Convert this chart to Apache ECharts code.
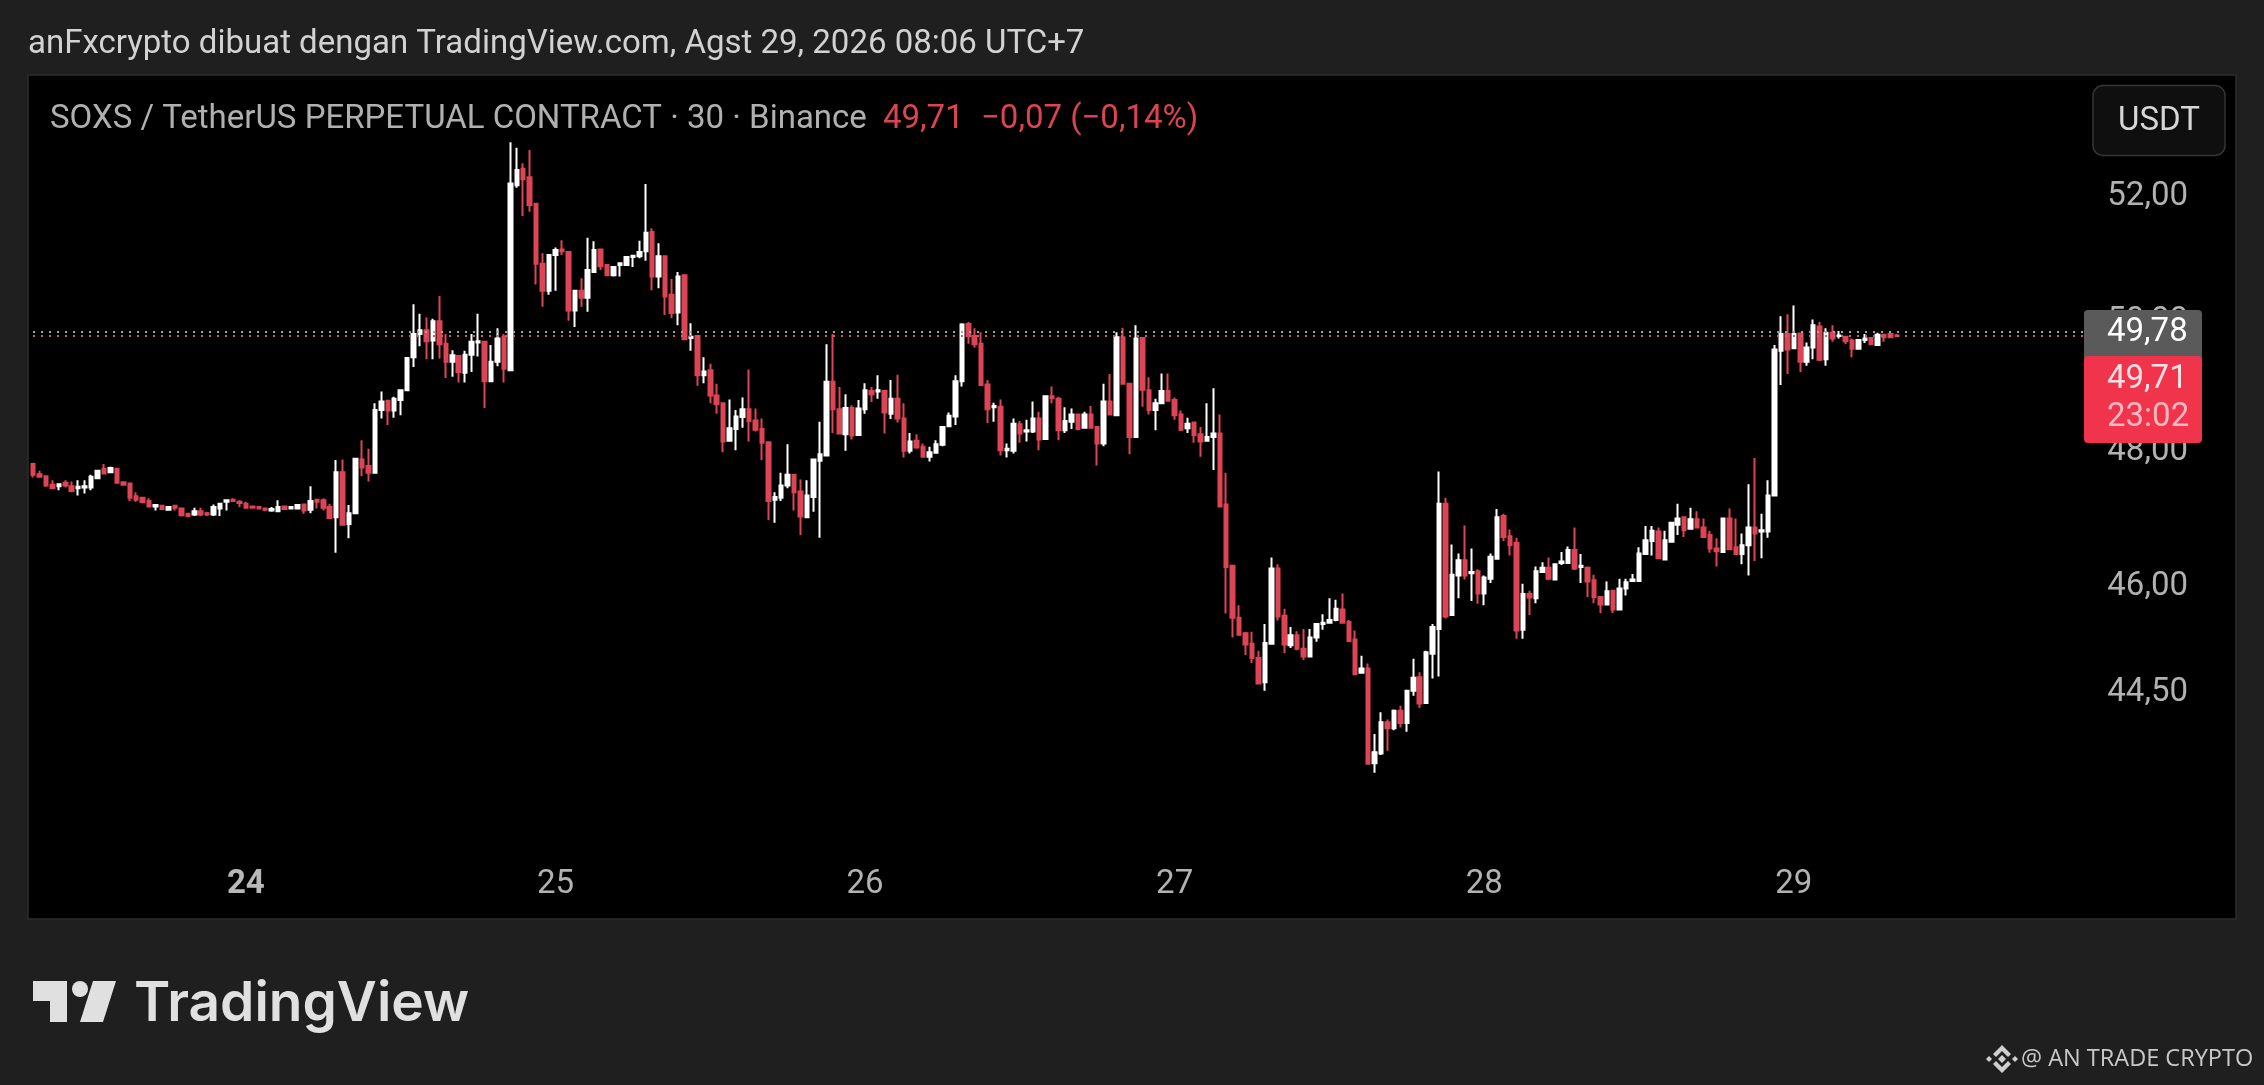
<!DOCTYPE html>
<html>
<head>
<meta charset="utf-8">
<style>html,body{margin:0;padding:0;background:#1f1f1f;overflow:hidden}#c{width:2264px;height:1085px}</style>
<script src="https://cdn.jsdelivr.net/npm/echarts@6/dist/echarts.min.js"></script>
</head>
<body>
<div id="c"></div>
<script>
// Each row: [open, close, low, high], 30-minute candles
const day23 = [[47.75,47.59,47.55,47.77],[47.60,47.56,47.55,47.65],[47.57,47.43,47.41,47.58],[47.44,47.39,47.38,47.51],[47.42,47.45,47.36,47.46],[47.47,47.43,47.40,47.51],[47.42,47.35,47.33,47.49],[47.39,47.41,47.28,47.51],[47.40,47.42,47.31,47.51],[47.40,47.56,47.36,47.59],[47.54,47.65,47.53,47.66],[47.68,47.61,47.60,47.75],[47.63,47.69,47.62,47.71],[47.68,47.47,47.46,47.69],[47.48,47.44,47.43,47.49],[47.46,47.25,47.20,47.47],[47.27,47.22,47.19,47.33],[47.25,47.18,47.17,47.26],[47.20,47.12,47.11,47.24],[47.12,47.14,47.06,47.15],[47.13,47.08,47.07,47.14],[47.07,47.11,47.07,47.12],[47.13,47.10,47.06,47.14],[47.09,46.99,46.97,47.10],[47.01,46.98,46.97,47.02],[47.00,47.05,46.98,47.10],[47.05,47.00,46.98,47.10],[47.02,47.00,46.98,47.04],[47.00,47.11,46.98,47.15],[47.09,47.16,46.98,47.17],[47.19,47.21,47.06,47.22],[47.22,47.20,47.19,47.24],[47.19,47.17,47.11,47.21]];
const day24 = [[47.16,47.10,47.09,47.19],[47.12,47.10,47.09,47.13],[47.11,47.09,47.08,47.12],[47.09,47.07,47.05,47.10],[47.06,47.08,47.04,47.11],[47.05,47.11,47.05,47.21],[47.12,47.08,47.07,47.13],[47.09,47.11,47.08,47.12],[47.09,47.14,47.08,47.15],[47.15,47.06,47.01,47.16],[47.07,47.20,47.02,47.42],[47.22,47.19,47.09,47.23],[47.21,47.10,47.06,47.24],[47.11,46.95,46.94,47.16],[46.96,47.63,46.44,47.81],[47.63,46.85,46.84,47.82],[46.86,47.02,46.65,47.14],[47.02,47.83,47.01,47.84],[47.82,47.70,47.57,48.11],[47.72,47.62,47.49,47.98],[47.62,48.57,47.61,48.67],[48.57,48.70,48.44,48.85],[48.71,48.56,48.34,48.72],[48.56,48.74,48.45,48.77],[48.72,48.87,48.49,48.88],[48.87,49.37,48.86,49.38],[49.38,49.74,49.23,50.21],[49.74,49.80,49.55,50.06],[49.80,49.63,49.35,50.00],[49.64,49.94,49.35,49.98],[49.94,49.58,49.36,50.34],[49.59,49.31,49.06,49.74],[49.31,49.41,49.08,49.49],[49.40,49.15,48.99,49.41],[49.14,49.42,48.99,49.48],[49.42,49.62,49.15,49.74],[49.61,49.63,49.39,50.06],[49.62,49.01,48.60,49.63],[49.01,49.31,49.00,49.57],[49.31,49.67,49.24,49.83],[49.70,49.20,48.99,49.74],[49.18,52.15,49.17,52.83],[52.12,52.37,52.08,52.74],[52.39,52.22,51.62,52.48],[52.25,51.80,51.69,52.70],[51.82,50.85,50.52,51.83],[50.85,50.42,50.17,51.02],[50.42,50.99,50.36,51.00]];
const day25 = [[50.99,51.07,50.42,51.11],[51.08,51.05,50.99,51.23],[51.04,50.11,49.95,51.05],[50.11,50.42,49.85,50.43],[50.42,50.31,50.17,50.62],[50.31,50.75,50.09,51.27],[50.72,51.07,50.71,51.21],[51.08,50.81,50.75,51.09],[50.83,50.67,50.66,50.84],[50.67,50.80,50.65,50.81],[50.83,50.86,50.65,50.87],[50.83,50.96,50.82,50.97],[50.96,50.98,50.80,50.99],[50.97,51.04,50.94,51.22],[51.05,51.35,50.90,52.14],[51.36,50.65,50.43,51.42],[50.65,50.97,50.46,51.18],[50.97,50.33,50.04,50.98],[50.36,50.07,49.99,50.61],[50.08,50.65,49.88,50.72],[50.67,49.66,49.65,50.68],[49.68,49.70,49.48,49.91],[49.71,49.10,48.94,49.72],[49.10,49.16,48.98,49.38],[49.18,48.79,48.67,49.28],[48.79,48.66,48.51,48.97],[48.67,48.09,47.93,48.68],[48.10,48.29,48.09,48.73],[48.28,48.47,47.96,48.57],[48.46,48.58,48.30,48.76],[48.58,48.40,48.09,49.19],[48.41,48.27,48.24,48.59],[48.28,48.07,47.81,48.44],[48.08,47.20,46.92,48.09],[47.22,47.26,46.88,47.33],[47.25,47.43,47.20,47.62],[47.43,47.59,47.39,48.05],[47.59,47.33,47.06,47.60],[47.34,46.97,46.70,47.52],[46.96,47.28,46.95,47.51],[47.26,47.82,47.04,47.83],[47.80,47.90,46.66,48.39],[47.88,49.00,47.87,49.58],[49.00,48.58,48.22,49.74],[48.58,48.21,48.20,48.92],[48.20,48.60,47.95,48.81],[48.60,48.18,48.12,48.64],[48.19,48.59,48.18,48.72]];
const day26 = [[48.58,48.87,48.51,48.98],[48.86,48.81,48.69,48.92],[48.85,48.87,48.74,49.10],[48.86,48.53,48.21,48.87],[48.51,48.74,48.43,49.03],[48.74,48.44,48.38,49.11],[48.44,47.95,47.85,48.67],[47.95,48.09,47.91,48.22],[48.10,48.00,47.98,48.20],[48.01,47.86,47.85,48.06],[47.86,47.93,47.79,48.01],[47.92,48.05,47.91,48.11],[48.04,48.31,48.02,48.32],[48.32,48.48,48.31,48.53],[48.47,49.01,48.34,49.10],[49.01,49.89,48.93,49.91],[49.90,49.71,49.59,49.93],[49.71,49.58,49.53,49.83],[49.59,48.95,48.94,49.77],[48.96,48.58,48.37,49.03],[48.61,48.63,48.39,48.68],[48.62,47.96,47.88,48.73],[47.96,47.98,47.85,48.06],[47.95,48.36,47.91,48.44],[48.35,48.21,48.07,48.40],[48.24,48.26,48.09,48.42],[48.24,48.44,48.22,48.70],[48.44,48.12,47.96,48.54],[48.13,48.78,48.12,48.79],[48.78,48.75,48.67,48.93],[48.74,48.26,48.11,48.77],[48.26,48.40,48.22,48.61],[48.39,48.50,48.28,48.59],[48.50,48.28,48.26,48.51],[48.30,48.50,48.29,48.54],[48.50,48.30,48.29,48.63],[48.31,48.06,47.73,48.32],[48.06,48.70,48.02,48.97],[48.70,48.50,48.49,49.12],[48.49,49.69,48.48,49.77],[49.69,48.97,48.96,49.84],[48.97,48.16,47.90,48.98],[48.16,49.67,48.15,49.88],[49.68,48.88,48.62,49.69],[48.87,48.57,48.50,49.07],[48.57,48.67,48.26,48.74],[48.67,48.86,48.66,49.13],[48.86,48.71,48.70,49.13]];
const day27 = [[48.72,48.49,48.42,48.76],[48.50,48.27,48.25,48.56],[48.29,48.36,48.22,48.45],[48.38,48.19,48.07,48.39],[48.20,48.09,47.86,48.31],[48.10,48.16,48.09,48.67],[48.16,48.21,47.66,48.90],[48.21,47.12,47.11,48.50],[47.15,46.23,45.56,47.62],[46.25,45.50,45.22,46.26],[45.50,45.26,45.25,45.68],[45.28,45.12,44.97,45.30],[45.13,44.93,44.86,45.30],[44.93,44.57,44.56,45.03],[44.59,45.14,44.47,45.41],[45.13,46.21,45.12,46.37],[46.21,45.52,45.46,46.27],[45.53,45.12,45.00,45.63],[45.11,45.25,45.07,45.37],[45.25,45.06,45.04,45.31],[45.06,44.95,44.90,45.34],[44.95,45.22,44.94,45.34],[45.22,45.41,45.16,45.42],[45.41,45.43,45.33,45.55],[45.43,45.47,45.42,45.78],[45.47,45.63,45.45,45.76],[45.62,45.43,45.42,45.85],[45.44,45.17,45.16,45.47],[45.19,44.70,44.69,45.32],[44.72,44.78,44.71,44.96],[44.78,43.46,43.45,44.85],[43.47,43.62,43.34,43.87],[43.60,44.03,43.58,44.17],[44.03,43.95,43.64,44.07],[43.95,44.19,43.92,44.21],[44.19,44.02,43.96,44.26],[44.02,44.47,43.90,44.48],[44.47,44.65,44.40,44.92],[44.66,44.29,44.23,44.73],[44.30,45.01,44.29,45.03],[44.99,45.37,44.64,45.41],[45.34,47.16,44.67,47.64],[47.16,45.52,45.49,47.25],[45.54,46.12,45.53,46.56],[46.11,46.33,45.78,46.43],[46.33,46.11,46.05,46.84],[46.14,46.16,45.74,46.50],[46.17,45.85,45.70,46.20]];
const day28 = [[45.85,46.08,45.68,46.11],[46.06,46.38,46.00,46.43],[46.35,46.96,46.34,47.08],[46.98,46.67,46.61,47.01],[46.68,46.55,46.40,46.78],[46.58,45.32,45.20,46.66],[45.33,45.84,45.20,45.99],[45.84,45.79,45.54,45.89],[45.78,46.17,45.71,46.24],[46.16,46.22,46.15,46.30],[46.22,46.06,46.04,46.37],[46.05,46.27,46.04,46.28],[46.29,46.31,46.26,46.45],[46.29,46.48,46.28,46.53],[46.48,46.21,46.19,46.81],[46.23,46.25,46.00,46.42],[46.22,46.02,45.80,46.24],[46.04,45.80,45.71,46.12],[45.80,45.69,45.57,45.81],[45.69,45.88,45.68,46.02],[45.89,45.62,45.57,45.90],[45.62,45.92,45.61,46.06],[45.92,46.01,45.82,46.06],[46.03,46.05,46.02,46.13],[46.03,46.43,46.02,46.52],[46.42,46.62,46.41,46.83],[46.61,46.76,46.40,46.83],[46.75,46.36,46.35,46.81],[46.34,46.62,46.33,46.76],[46.60,46.88,46.59,46.89],[46.85,46.94,46.70,47.16],[46.96,46.77,46.67,46.97],[46.79,46.93,46.78,47.10],[46.93,46.81,46.80,47.05],[46.81,46.67,46.66,46.94],[46.70,46.50,46.44,46.76],[46.50,46.46,46.24,46.65],[46.45,46.94,46.44,46.95],[46.94,46.49,46.48,47.09],[46.52,46.42,46.41,46.94],[46.42,46.55,46.27,46.72],[46.55,46.81,46.11,47.45],[46.81,46.72,46.32,47.84],[46.75,46.77,46.36,47.01],[46.75,47.28,46.66,47.51],[47.28,49.50,47.27,49.57],[49.48,49.74,48.95,50.02],[49.74,49.50,49.12,50.05]];
const day29 = [[49.52,49.74,49.51,50.19],[49.75,49.31,49.15,49.76],[49.31,49.53,49.25,49.61],[49.53,49.88,49.35,49.97],[49.86,49.34,49.32,49.93],[49.35,49.76,49.25,49.83],[49.76,49.67,49.62,49.88],[49.71,49.72,49.67,49.79],[49.70,49.63,49.58,49.71],[49.64,49.51,49.38,49.67],[49.51,49.65,49.50,49.66],[49.65,49.67,49.60,49.74],[49.68,49.58,49.57,49.69],[49.57,49.73,49.56,49.76],[49.73,49.69,49.62,49.74],[49.74,49.69,49.68,49.75],[49.72,49.71,49.70,49.74]];

const priceTicks = [52, 50, 48, 46, 44.5];
const dayLabels = ['24', '25', '26', '27', '28', '29'];
const lastPrice = 49.71;
const prevPrice = 49.78;
const currency = 'USDT';
const headerText = 'anFxcrypto dibuat dengan TradingView.com, Agst 29, 2026 08:06 UTC+7';
const symbolText = 'SOXS / TetherUS PERPETUAL CONTRACT · 30 · Binance';
const changeText = '−0,07 (−0,14%)';
const countdown = '23:02';
const creditText = '@ AN TRADE CRYPTO';

const candles = [].concat(day23, day24, day25, day26, day27, day28, day29);
const totalSlots = 319;
// one slot per 30 minutes; a day label sits on the first candle of each day
const categories = [];
for (let i = 0; i < totalSlots; i++) categories.push('');
[day23, day24, day25, day26, day27, day28].reduce((n, d, k) => {
  const at = n + d.length;
  categories[at] = dayLabels[k];
  return at;
}, 0);

const fmt = v => v.toFixed(2).replace('.', ',');
const FONT = 'Roboto';
const txt = (x, y, text, size, fill, extra) => ({
  type: 'text', x, y, z: 200, silent: true,
  style: Object.assign({ text, fontFamily: FONT, fontSize: size, fill, textVerticalAlign: 'middle', verticalAlign: 'middle' }, extra || {})
});
const poly = (points, fill) => ({ type: 'polygon', z: 200, silent: true, shape: { points }, style: { fill } });
const cx = 2002, cy = 1059, ic = '#cfcfcf';
const dottedLine = (price, color) => ({
  name: fmt(price),
  lineStyle: { color, width: 2, type: [2, 6] },
  coords: [[0, price], [totalSlots - 1, price]]
});

const chart = echarts.init(document.getElementById('c'), null, { renderer: 'canvas', width: 2264, height: 1085 });
chart.setOption({
  backgroundColor: '#1f1f1f',
  animation: false,
  grid: { left: 29.8, top: 76, width: 2057.5, height: 774, containLabel: false },
  xAxis: {
    type: 'category', data: categories, boundaryGap: true,
    axisLine: { show: false }, axisTick: { show: false }, splitLine: { show: false },
    axisLabel: {
      interval: (i, v) => v !== '', margin: 18, color: '#b2b2b2', fontFamily: FONT, fontSize: 33, hideOverlap: false,
      formatter: v => v === dayLabels[0] ? '{b|' + v + '}' : v,
      rich: { b: { fontWeight: 700, fontFamily: FONT, fontSize: 33, color: '#b8b8b8' } }
    }
  },
  yAxis: {
    type: 'log', position: 'right', min: 42.3, max: 53.94, scale: true,
    axisLine: { show: false }, axisTick: { show: false }, splitLine: { show: false }, minorTick: { show: false },
    axisLabel: { customValues: priceTicks, margin: 20, color: '#b2b2b2', fontFamily: FONT, fontSize: 33, verticalAlign: 'top', lineHeight: 8, formatter: v => fmt(v) }
  },
  series: [{
    type: 'candlestick', data: candles, barWidth: 4, clip: false,
    itemStyle: { color: '#ffffff', color0: '#dd4455', borderColor: '#ffffff', borderColor0: '#dd4455', borderWidth: 2 },
    markLine: {
      silent: true, symbol: 'none', animation: false, label: { show: false },
      data: [
        [{ xAxis: 0, yAxis: prevPrice, lineStyle: { color: '#a6a6a6', width: 2, type: [2, 6] } }, { xAxis: totalSlots - 1, yAxis: prevPrice }],
        [{ xAxis: 0, yAxis: lastPrice, lineStyle: { color: '#c9636f', width: 2, type: [2, 6] } }, { xAxis: totalSlots - 1, yAxis: lastPrice }]
      ]
    }
  }],
  graphic: [
    // pane background and border
    { type: 'rect', z: -10, silent: true, shape: { x: 28, y: 75, width: 2208, height: 844 }, style: { fill: '#000000', stroke: '#2d2d2d', lineWidth: 1.5 } },
    txt(28, 44.5, headerText, 33, '#d2d2d2'),
    txt(50, 120, symbolText, 33, '#b0b0b0'),
    txt(883, 120, fmt(lastPrice), 33, '#dc4452'),
    txt(981, 120, changeText, 33, '#dc4452'),
    // currency button
    { type: 'rect', z: 200, silent: true, shape: { x: 2093, y: 85.5, width: 132, height: 70, r: 10 }, style: { fill: '#0f0f0f', stroke: '#353535', lineWidth: 1.5 } },
    txt(2159, 122, currency, 33, '#d6d6d6', { textAlign: 'center', align: 'center' }),
    // price labels
    { type: 'rect', z: 190, silent: true, shape: { x: 2084, y: 310, width: 118, height: 48, r: [4, 4, 0, 0] }, style: { fill: '#5a5a5a' } },
    txt(2107, 333, fmt(prevPrice), 33, '#ffffff'),
    { type: 'rect', z: 195, silent: true, shape: { x: 2084, y: 356, width: 118, height: 87, r: 4 }, style: { fill: '#f0344b' } },
    txt(2107, 380, fmt(lastPrice), 33, '#fbe0e4'),
    txt(2107, 418, countdown, 33, '#fab8c1'),
    // TradingView logo
    poly([[33, 981], [67, 981], [67, 1022], [50, 1022], [50, 1001], [33, 1001]], '#e0e0e0'),
    { type: 'circle', z: 200, silent: true, shape: { cx: 80, cy: 989, r: 8 }, style: { fill: '#e0e0e0' } },
    poly([[93, 981], [116, 981], [103, 1022], [80, 1022]], '#e0e0e0'),
    txt(134, 1004, 'TradingView', 55, '#e0e0e0', { fontFamily: 'Inter', fontWeight: 600 }),
    // credit
    poly([[cx, cy - 14], [cx + 9, cy - 5], [cx + 6, cy - 2], [cx, cy - 8], [cx - 6, cy - 2], [cx - 9, cy - 5]], ic),
    poly([[cx, cy + 14], [cx + 9, cy + 5], [cx + 6, cy + 2], [cx, cy + 8], [cx - 6, cy + 2], [cx - 9, cy + 5]], ic),
    poly([[cx, cy - 4], [cx + 4, cy], [cx, cy + 4], [cx - 4, cy]], ic),
    poly([[cx - 13, cy - 3], [cx - 10, cy], [cx - 13, cy + 3], [cx - 16, cy]], ic),
    poly([[cx + 13, cy - 3], [cx + 16, cy], [cx + 13, cy + 3], [cx + 10, cy]], ic),
    txt(2021, 1059, creditText, 23.5, '#c9c9c9', { fontFamily: 'Open Sans' })
  ]
});
</script>
</body>
</html>
